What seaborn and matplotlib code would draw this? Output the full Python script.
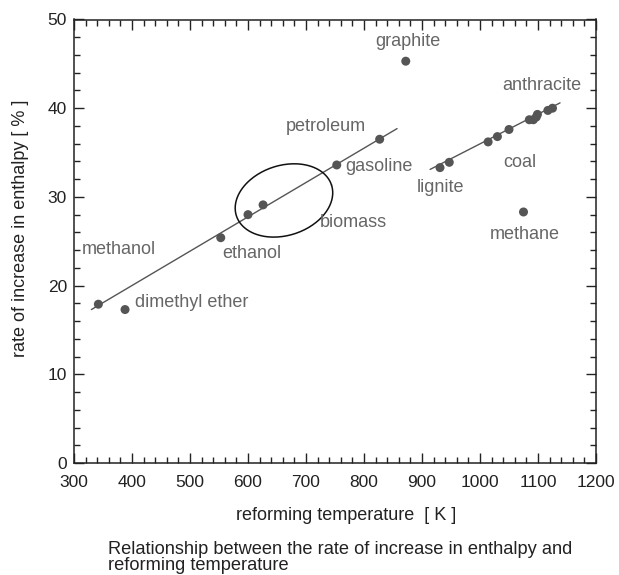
import numpy as np
import pandas as pd
import matplotlib
matplotlib.use("Agg")
import matplotlib.pyplot as plt
import seaborn as sns
from matplotlib.ticker import MultipleLocator

# ---- data ----
temperature = [342, 388, 553, 600, 626, 753, 827, 872,
               931, 947, 1014, 1030, 1050, 1085, 1092, 1097, 1099,
               1117, 1125, 1075]
enthalpy_rate = [17.9, 17.3, 25.4, 28.0, 29.1, 33.6, 36.5, 45.3,
                 33.3, 33.9, 36.2, 36.8, 37.6, 38.7, 38.7, 39.0, 39.3,
                 39.75, 40.0, 28.3]

fit1_x = [330, 857]
fit1_y = [17.3, 37.7]
fit2_x = [914, 1138]
fit2_y = [33.1, 40.6]

labels = ["methanol", "dimethyl ether", "ethanol", "biomass", "gasoline",
          "petroleum", "graphite", "lignite", "coal", "anthracite", "methane"]
label_x = [378, 405, 607, 781, 768, 734, 876, 932, 1069, 1107, 1078]
label_y = [24.1, 18.1, 23.6, 27.1, 33.4, 37.9, 47.5, 31.1, 33.9, 42.6, 25.8]
label_ha = ["center", "left", "center", "center", "left", "center", "center",
            "center", "center", "center", "center"]

x_ticks = [300, 400, 500, 600, 700, 800, 900, 1000, 1100, 1200]
y_ticks = [0, 10, 20, 30, 40, 50]

caption = ["Relationship between the rate of increase in enthalpy and",
           "reforming temperature"]

df = pd.DataFrame({"T": temperature, "rate": enthalpy_rate})

sns.set_style("ticks")
plt.rcParams['font.family'] = ['Liberation Sans', 'DejaVu Sans']

fig = plt.figure(figsize=(6.19, 5.75), dpi=100)
ax = fig.add_axes([74 / 619, 1 - 463 / 575, (596 - 74) / 619, (463 - 19.5) / 575])

line_col = "#555555"
sns.lineplot(x=fit1_x, y=fit1_y, ax=ax, color=line_col, lw=1.0)
sns.lineplot(x=fit2_x, y=fit2_y, ax=ax, color=line_col, lw=1.0)
sns.scatterplot(data=df, x="T", y="rate", ax=ax, color=line_col, s=42,
                edgecolor="none", zorder=3)

# biomass outline (hand-drawn style ellipse)
t = np.linspace(0, 2 * np.pi, 200)
a_px, b_px, ang = 50, 35, np.deg2rad(18)
u = a_px * np.cos(t)
v = b_px * np.sin(t)
px = u * np.cos(ang) - v * np.sin(ang)
py = u * np.sin(ang) + v * np.cos(ang)
cx, cy = 662, 29.6
ax.plot(cx + px / 0.58, cy + py / 8.88, color="#111111", lw=1.1)

for txt, lx, ly, ha in zip(labels, label_x, label_y, label_ha):
    ax.text(lx, ly, txt, ha=ha, va="center", fontsize=13, color="#666666")

ax.set_xlim(300, 1200)
ax.set_ylim(0, 50)
ax.set_xticks(x_ticks)
ax.set_yticks(y_ticks)
ax.xaxis.set_minor_locator(MultipleLocator(20))
ax.yaxis.set_minor_locator(MultipleLocator(2))
ax.tick_params(which="both", direction="in", top=True, right=True,
               colors="#222222", labelsize=12.5, width=1.0)
ax.tick_params(which="major", length=7.5)
ax.tick_params(which="minor", length=4.5)
ax.tick_params(axis="x", which="major", pad=8.5)
ax.tick_params(axis="y", which="major", pad=5)
for sp in ax.spines.values():
    sp.set_visible(True)
    sp.set_color("#222222")
    sp.set_linewidth(1.1)

ax.set_xlabel("reforming temperature  [ K ]", fontsize=13, color="#222222")
ax.xaxis.label.set_va("center")
ax.xaxis.set_label_coords(0.522, -52 / 443.5)
ax.set_ylabel("rate of increase in enthalpy [ % ]", fontsize=13, color="#222222")
ax.yaxis.label.set_va("center")
ax.yaxis.set_label_coords((20.7 - 74) / 522, 0.53)

fig.text(108 / 619, 1 - 553.5 / 575, caption[0], ha="left", va="baseline",
         fontsize=13.15, color="#222222")
fig.text(108 / 619, 1 - 570.5 / 575, caption[1], ha="left", va="baseline",
         fontsize=13.15, color="#222222")

fig.savefig("out.png", dpi=100)
